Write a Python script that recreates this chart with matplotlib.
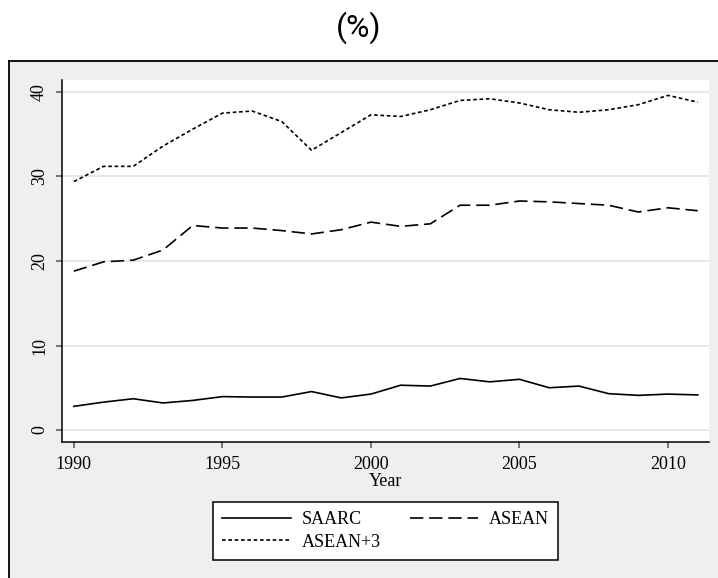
import matplotlib
matplotlib.use("Agg")
import matplotlib.pyplot as plt
from matplotlib.patches import Rectangle
from matplotlib.lines import Line2D

years = list(range(1990, 2012))
saarc = [2.8, 3.3, 3.7, 3.2, 3.5, 3.95, 3.9, 3.9, 4.55, 3.8, 4.25,
         5.3, 5.2, 6.1, 5.7, 6.0, 5.0, 5.2, 4.3, 4.1, 4.25, 4.15]
asean = [18.8, 19.9, 20.1, 21.3, 24.2, 23.9, 23.9, 23.6, 23.2, 23.7, 24.6,
         24.1, 24.4, 26.6, 26.6, 27.1, 27.0, 26.8, 26.6, 25.8, 26.3, 25.95]
asean3 = [29.4, 31.2, 31.2, 33.6, 35.6, 37.5, 37.75, 36.5, 33.1, 35.2, 37.3,
          37.1, 37.9, 39.0, 39.2, 38.7, 37.9, 37.6, 37.9, 38.5, 39.6, 38.8]
x_ticks = [1990, 1995, 2000, 2005, 2010]
y_ticks = [0, 10, 20, 30, 40]

W, H = 718, 578
fig = plt.figure(figsize=(W / 100, H / 100), dpi=100, facecolor="white")

# outer gray panel
top_y = 1 - 61 / H
left_x = 9 / W
fig.patches.append(Rectangle((left_x, -0.01), 1.0, top_y + 0.01, transform=fig.transFigure,
                             facecolor="#efefef", edgecolor="none", zorder=0))
fig.lines.append(Line2D([left_x, 1.0], [top_y, top_y], transform=fig.transFigure,
                        color="black", lw=1.3, zorder=1))
fig.lines.append(Line2D([left_x, left_x], [0, top_y], transform=fig.transFigure,
                        color="black", lw=1.3, zorder=1))

fig.text(0.5, 1 - 28 / H, "(%)", ha="center", va="center", fontsize=23, family="Roboto")

ax = fig.add_axes([62 / W, 1 - 442 / H, (709 - 62) / W, (442 - 80) / H])
ax.set_facecolor("white")
ax.set_zorder(2)

serif = "Liberation Serif"
l1, = ax.plot(years, saarc, color="black", lw=1.2, ls="-", label="SAARC")
l2, = ax.plot(years, asean, color="black", lw=1.2, ls=(0, (8, 3.5)), label="ASEAN")
l3, = ax.plot(years, asean3, color="black", lw=1.2, ls=(0, (2.2, 1.6)), label="ASEAN+3")

ax.set_xlim(1989.6, 2011.38)
ax.set_ylim(-1.42, 41.42)
ax.set_xticks(x_ticks)
ax.set_yticks(y_ticks)
ax.grid(axis="y", color="#e6e6e6", lw=1.3)
ax.set_axisbelow(True)
for s in ["top", "right"]:
    ax.spines[s].set_visible(False)
for s in ["left", "bottom"]:
    ax.spines[s].set_color("black")
    ax.spines[s].set_linewidth(1.1)
ax.tick_params(axis="both", direction="out", length=4.5, width=1.1, color="#555555",
               labelsize=13, pad=5.5)
for lab in ax.get_xticklabels() + ax.get_yticklabels():
    lab.set_family(serif)
for lab in ax.get_yticklabels():
    lab.set_rotation(90)
    lab.set_va("center")
ax.set_xlabel("Year", family=serif, fontsize=13, labelpad=0)

leg = fig.legend(handles=[l1, l3, l2], ncol=2, loc="center",
                 bbox_to_anchor=((214 + 557) / 2 / W, 1 - 531 / H),
                 prop={"family": serif, "size": 13}, frameon=True, fancybox=False,
                 edgecolor="black", handlelength=3.8, handletextpad=0.6,
                 columnspacing=1.6, borderpad=0.5, labelspacing=0.3, borderaxespad=0)
leg.get_frame().set_linewidth(1.1)
leg.get_frame().set_facecolor("white")
leg.get_frame().set_alpha(1)

fig.savefig("out.png", dpi=100, facecolor="white")
